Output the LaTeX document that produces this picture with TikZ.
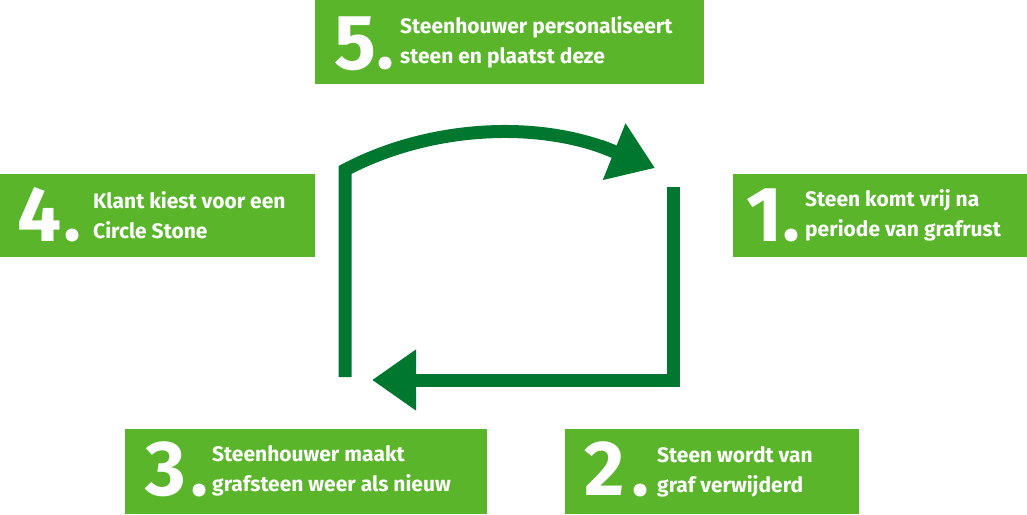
\documentclass[tikz,border=0pt]{standalone}
\usepackage{fontspec}
\setmainfont{Fira Sans}
\usetikzlibrary{arrows.meta}
\definecolor{boxg}{HTML}{5AB52B}
\definecolor{arrg}{HTML}{00772F}
\begin{document}
\begin{tikzpicture}[x=1pt,y=-1pt,
  box/.style={fill=boxg,draw=none},
  num/.style={text=white,font=\fontsize{78}{78}\selectfont\bfseries,inner sep=0pt,anchor=base west},
  lbl/.style={text=white,font=\fontsize{21}{30}\selectfont\bfseries,inner sep=0pt,anchor=west,align=left},
  arr/.style={draw=arrg,line width=13pt},
  tip/.style={-{Triangle[length=44pt,width=58pt]}}]
\useasboundingbox (0,0) rectangle (1027,514);
\fill[box] (315,0) rectangle (704,84);
\fill[box] (0,174) rectangle (315,257);
\fill[box] (733,174) rectangle (1027,257);
\fill[box] (125,429) rectangle (487,514);
\fill[box] (565,429) rectangle (859,514);
% numbers
\node[num] (n5) at (334,69) {5};
\fill[white] (385,63) circle (6.5);
\node[lbl] (t5) at (400,42) {Steenhouwer personaliseert\\steen en plaatst deze};
\node[num] (n4) at (17,241) {4};
\fill[white] (72,235) circle (6.5);
\node[lbl] (t4) at (93,215) {Klant kiest voor een\\Circle Stone};
\node[num] (n1) at (746,241) {1};
\fill[white] (791,235) circle (6.5);
\node[lbl] (t1) at (805,215) {Steen komt vrij na\\periode van grafrust};
\node[num] (n3) at (145,495) {3};
\fill[white] (199,490) circle (6.5);
\node[lbl] (t3) at (212,471) {Steenhouwer maakt\\grafsteen weer als nieuw};
\node[num] (n2) at (584,495) {2};
\fill[white] (640,490) circle (6.5);
\node[lbl] (t2) at (657,472) {Steen wordt van\\graf verwijderd};
% arrows
\coordinate (a1) at (673,187);
\coordinate (a2) at (673,380);
\coordinate (a3) at (372,380);
\draw[arr,tip] (a1) -- (a2) -- (a3);
\coordinate (b1) at (345,377);
\coordinate (b2) at (345,170);
\coordinate (b3) at (655,168);
\draw[arr] (b1) -- (b2) .. controls (430,125) and (540,120) .. (615,152);
\draw[arr,tip] (600,146) -- (b3);
\end{tikzpicture}
\end{document}
